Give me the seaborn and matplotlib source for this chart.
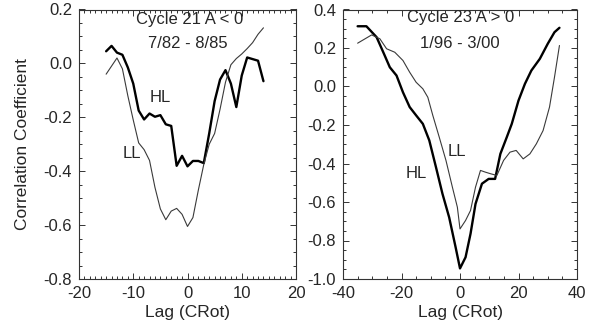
import numpy as np
import pandas as pd
import matplotlib
matplotlib.use("Agg")
import matplotlib.pyplot as plt
from matplotlib.ticker import MultipleLocator
import seaborn as sns

# ---- data: Cycle 21 (A < 0) ----
lag21 = [-15, -14, -13, -12, -11, -10, -9, -8, -7, -6, -5, -4, -3, -2, -1,
         0, 1, 2, 3, 4, 5, 6, 7, 8, 9, 10, 11, 12, 13, 14]
hl21 = [0.045, 0.065, 0.040, 0.032, -0.015, -0.075, -0.175, -0.208, -0.186,
        -0.198, -0.192, -0.226, -0.232, -0.380, -0.343, -0.382, -0.362,
        -0.362, -0.370, -0.260, -0.140, -0.060, -0.025, -0.075, -0.162,
        -0.045, 0.022, 0.016, 0.010, -0.066]
ll21 = [-0.040, -0.010, 0.020, -0.020, -0.120, -0.210, -0.295, -0.320,
        -0.360, -0.460, -0.540, -0.580, -0.548, -0.538, -0.560, -0.605,
        -0.572, -0.470, -0.375, -0.300, -0.260, -0.170, -0.070, -0.005,
        0.018, 0.035, 0.055, 0.077, 0.108, 0.132]

# ---- data: Cycle 23 (A > 0) ----
lag23_hl = [-35, -32, -28.5, -26, -24, -21.7, -19.5, -17.2, -15, -12.7, -10.5,
            -8.2, -6, -3.7, -1.5, 0, 1.9, 3.6, 5.3, 7.5, 9.8, 12, 13.8, 16,
            17.7, 20, 22.2, 24.4, 27.3, 30, 32.3, 34]
hl23 = [0.313, 0.313, 0.256, 0.170, 0.100, 0.057, -0.030, -0.107, -0.150,
        -0.194, -0.280, -0.420, -0.557, -0.680, -0.835, -0.945, -0.887,
        -0.765, -0.610, -0.505, -0.480, -0.480, -0.350, -0.263, -0.194,
        -0.073, 0.014, 0.083, 0.144, 0.222, 0.282, 0.305]
lag23_ll = [-35, -30.2, -27.4, -25.1, -22.3, -19.5, -17.2, -15, -12.7, -11,
            -9.3, -7.1, -4.8, -2.6, -0.9, 0, 1.9, 3.6, 5.3, 7, 8.7, 10.4,
            12.6, 14.9, 17.1, 19.2, 21.6, 23.9, 26.1, 28.4, 30.6, 32.3, 34]
ll23 = [0.225, 0.268, 0.248, 0.196, 0.178, 0.135, 0.074, 0.022, -0.012,
        -0.056, -0.150, -0.263, -0.384, -0.523, -0.627, -0.740, -0.696,
        -0.644, -0.523, -0.436, -0.445, -0.453, -0.462, -0.384, -0.341,
        -0.332, -0.376, -0.350, -0.298, -0.229, -0.107, 0.048, 0.213]

sns.set_style("ticks")
plt.rcParams['font.family'] = ['Liberation Sans', 'DejaVu Sans']
plt.rcParams['axes.unicode_minus'] = False

fig = plt.figure(figsize=(5.89, 3.29), dpi=100)
ax1 = fig.add_axes([79/589, 1 - 279/329, 217/589, 269.5/329])
ax2 = fig.add_axes([343/589, 1 - 279/329, 234/589, 269.5/329])

hl_kw = dict(color="black", linewidth=1.7)
ll_kw = dict(color="#3a3a3a", linewidth=0.8)

sns.lineplot(x=lag21, y=hl21, ax=ax1, **hl_kw)
sns.lineplot(x=lag21, y=ll21, ax=ax1, **ll_kw)
sns.lineplot(x=lag23_hl, y=hl23, ax=ax2, **hl_kw)
sns.lineplot(x=lag23_ll, y=ll23, ax=ax2, **ll_kw)

ax1.set_xlim(-20, 20)
ax1.set_ylim(-0.8, 0.2)
ax1.xaxis.set_major_locator(MultipleLocator(10))
ax1.xaxis.set_minor_locator(MultipleLocator(1))
ax1.yaxis.set_major_locator(MultipleLocator(0.2))
ax1.yaxis.set_minor_locator(MultipleLocator(0.05))

ax2.set_xlim(-40, 40)
ax2.set_ylim(-1.0, 0.4)
ax2.xaxis.set_major_locator(MultipleLocator(20))
ax2.xaxis.set_minor_locator(MultipleLocator(5))
ax2.yaxis.set_major_locator(MultipleLocator(0.2))
ax2.yaxis.set_minor_locator(MultipleLocator(0.05))

for ax in (ax1, ax2):
    ax.tick_params(which="both", direction="in", top=True, right=True,
                   width=0.7, color="#333333")
    ax.tick_params(which="major", length=4.5, labelsize=12, pad=5)
    ax.tick_params(which="minor", length=2.2)
    for s in ax.spines.values():
        s.set_linewidth(0.8)
        s.set_color("#333333")
    ax.yaxis.set_major_formatter(plt.FuncFormatter(lambda v, p: f"{v:.1f}"))
    ax.set_xlabel("Lag (CRot)", fontsize=12.5, labelpad=3)

ax1.set_ylabel("Correlation Coefficient", fontsize=12.5, labelpad=10)
ax2.set_ylabel("")

tkw = dict(ha="center", va="center", fontsize=12)
ax1.text(0.3, 0.164, "Cycle 21 A < 0", **tkw)
ax1.text(0.0, 0.072, "7/82 - 8/85", **tkw)
ax1.text(-5.1, -0.127, "HL", **tkw)
ax1.text(-10.3, -0.333, "LL", **tkw)

ax2.text(0.3, 0.358, "Cycle 23 A > 0", **tkw)
ax2.text(0.0, 0.223, "1/96 - 3/00", **tkw)
ax2.text(-0.9, -0.338, "LL", **tkw)
ax2.text(-15, -0.453, "HL", **tkw)

fig.savefig("out.png", dpi=100)
